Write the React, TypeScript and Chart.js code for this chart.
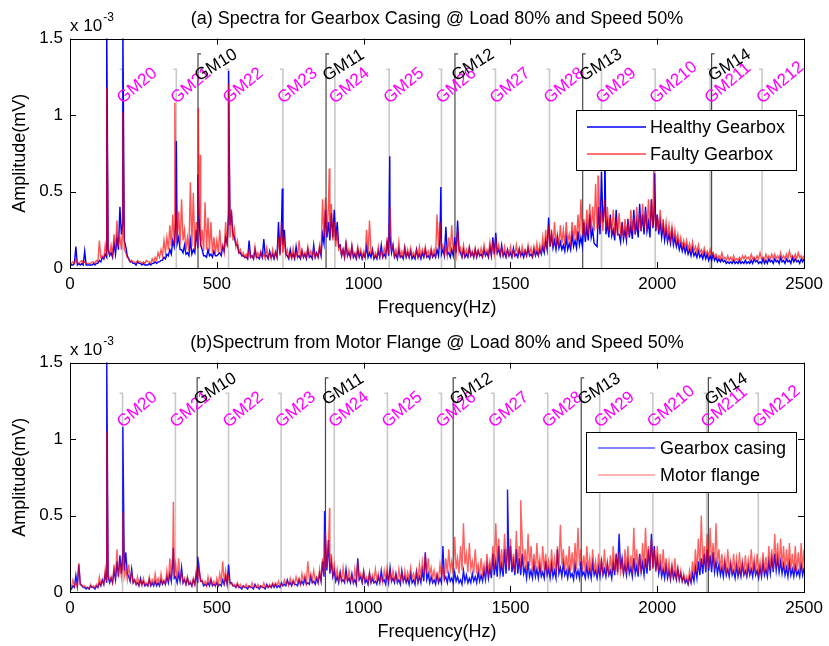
import React, { useEffect, useRef } from "react";
import { Chart, registerables } from "chart.js";

Chart.register(...registerables);

// ---------------- DATA ----------------
// Base spectra sampled every 5 Hz (index i -> i*5 Hz), values in hundredths of 1e-3 mV.
const FREQ_STEP_HZ = 5;
const AMP_UNIT = 100;

// Panel (a)
const titleA = "(a) Spectra for Gearbox Casing @ Load 80% and Speed 50%";
const legendA = ["Healthy Gearbox", "Faulty Gearbox"];
const healthyA = [
  3, 2, 2, 3, 14, 2, 3, 2, 3, 2, 11, 2, 2, 2, 2, 2, 3, 2, 3, 3,
  5, 4, 7, 6, 9, 7, 12, 8, 10, 7, 16, 9, 20, 12, 40, 22, 30, 18, 14, 8,
  6, 4, 4, 3, 3, 2, 4, 3, 3, 2, 3, 2, 2, 2, 3, 2, 3, 3, 4, 3,
  4, 4, 5, 5, 7, 6, 9, 8, 12, 9, 18, 14, 30, 16, 20, 12, 12, 10, 15, 9,
  10, 8, 18, 9, 12, 10, 25, 13, 30, 15, 12, 8, 8, 7, 12, 8, 9, 7, 11, 8,
  8, 9, 10, 8, 14, 11, 20, 16, 35, 28, 35, 22, 20, 15, 15, 10, 10, 8, 8, 7,
  7, 6, 18, 7, 8, 6, 12, 7, 7, 6, 10, 7, 19, 8, 8, 6, 11, 7, 9, 6,
  10, 7, 30, 9, 25, 15, 25, 9, 8, 6, 12, 7, 9, 6, 14, 7, 8, 6, 11, 7,
  9, 6, 12, 7, 8, 6, 15, 7, 10, 7, 13, 8, 22, 16, 38, 20, 30, 18, 36, 20,
  38, 18, 30, 14, 15, 8, 12, 7, 16, 8, 10, 7, 14, 7, 9, 6, 12, 7, 10, 6,
  9, 7, 14, 7, 10, 7, 12, 6, 8, 6, 11, 7, 15, 7, 9, 7, 18, 8, 20, 10,
  15, 7, 9, 6, 12, 7, 8, 6, 13, 7, 10, 7, 11, 6, 8, 6, 12, 7, 9, 6,
  10, 7, 12, 7, 8, 6, 11, 7, 9, 7, 12, 8, 20, 9, 12, 8, 27, 9, 10, 7,
  12, 8, 20, 10, 31, 12, 10, 7, 12, 7, 9, 7, 13, 8, 10, 7, 12, 7, 11, 8,
  9, 7, 12, 8, 10, 7, 14, 8, 20, 9, 23, 10, 12, 8, 15, 8, 10, 7, 12, 8,
  10, 7, 13, 8, 9, 7, 12, 8, 10, 7, 11, 8, 13, 8, 9, 7, 12, 8, 11, 8,
  12, 9, 14, 10, 18, 12, 33, 14, 22, 13, 18, 12, 20, 13, 17, 12, 15, 11, 20, 12,
  16, 12, 22, 14, 18, 13, 24, 15, 20, 14, 30, 17, 27, 18, 35, 20, 25, 16, 15, 14,
  40, 22, 63, 30, 40, 22, 30, 20, 35, 21, 25, 18, 38, 22, 22, 17, 30, 19, 25, 18,
  32, 20, 28, 19, 38, 22, 30, 20, 42, 24, 35, 22, 40, 24, 30, 20, 45, 26, 40, 24,
  35, 22, 30, 20, 28, 18, 25, 17, 22, 16, 24, 15, 20, 14, 18, 12, 16, 11, 15, 10,
  14, 9, 12, 8, 13, 8, 10, 7, 11, 7, 9, 6, 10, 6, 9, 5, 8, 5, 9, 5,
  7, 4, 6, 4, 6, 4, 5, 3, 4, 3, 4, 3, 5, 3, 4, 3, 5, 3, 4, 3,
  5, 3, 4, 3, 5, 3, 6, 4, 5, 3, 4, 3, 6, 3, 5, 3, 6, 4, 5, 3,
  6, 4, 5, 3, 7, 4, 5, 3, 6, 4, 5, 3, 7, 4, 6, 4, 5, 3, 6, 4,
  6,
];
const faultyA = [
  3, 3, 4, 3, 6, 3, 3, 4, 5, 3, 4, 3, 3, 3, 3, 4, 4, 3, 5, 4,
  18, 7, 8, 6, 15, 8, 12, 9, 15, 9, 22, 12, 31, 16, 20, 12, 30, 12, 10, 7,
  6, 4, 5, 4, 4, 3, 5, 4, 4, 3, 4, 3, 5, 4, 4, 3, 6, 4, 7, 5,
  10, 7, 12, 8, 18, 10, 20, 12, 28, 14, 35, 16, 40, 18, 37, 15, 45, 18, 25, 12,
  20, 11, 56, 14, 49, 12, 30, 13, 35, 14, 25, 11, 43, 12, 33, 11, 30, 10, 20, 9,
  18, 10, 25, 11, 15, 10, 30, 14, 40, 20, 38, 18, 25, 14, 18, 10, 12, 8, 10, 7,
  9, 6, 12, 7, 8, 6, 14, 7, 10, 7, 11, 7, 9, 6, 13, 7, 10, 6, 12, 7,
  11, 7, 20, 8, 30, 10, 18, 8, 12, 7, 9, 6, 13, 7, 10, 7, 18, 8, 12, 7,
  10, 7, 14, 8, 11, 7, 12, 7, 9, 7, 15, 9, 45, 20, 46, 22, 40, 20, 42, 18,
  30, 14, 25, 12, 14, 8, 12, 7, 18, 8, 12, 7, 15, 8, 10, 7, 14, 8, 12, 7,
  11, 7, 25, 9, 31, 10, 12, 7, 10, 7, 14, 8, 11, 7, 13, 8, 20, 9, 40, 12,
  15, 8, 12, 7, 17, 8, 11, 7, 14, 8, 12, 7, 13, 8, 10, 7, 12, 7, 14, 8,
  12, 8, 14, 8, 11, 7, 13, 8, 12, 8, 35, 14, 30, 12, 15, 9, 14, 8, 20, 10,
  28, 11, 14, 8, 25, 10, 13, 8, 15, 8, 12, 8, 14, 8, 11, 7, 13, 8, 12, 8,
  13, 8, 15, 9, 12, 8, 17, 9, 16, 9, 18, 10, 15, 9, 13, 8, 14, 8, 12, 8,
  14, 8, 12, 8, 15, 9, 13, 8, 14, 9, 12, 8, 15, 9, 13, 8, 14, 9, 16, 9,
  15, 10, 20, 11, 25, 13, 28, 14, 25, 14, 30, 16, 22, 14, 28, 16, 25, 15, 30, 17,
  22, 16, 30, 18, 28, 18, 35, 20, 45, 22, 32, 20, 38, 22, 42, 24, 40, 24, 55, 26,
  60, 28, 38, 24, 45, 26, 40, 24, 33, 22, 38, 24, 30, 21, 36, 23, 28, 20, 32, 22,
  30, 21, 38, 24, 33, 22, 40, 25, 36, 24, 42, 26, 38, 24, 45, 26, 45, 27, 40, 25,
  35, 24, 38, 23, 32, 21, 30, 20, 28, 19, 27, 18, 25, 17, 22, 15, 20, 14, 18, 13,
  18, 12, 16, 11, 17, 11, 14, 10, 15, 10, 12, 9, 13, 9, 11, 8, 12, 8, 10, 7,
  9, 6, 8, 6, 10, 6, 7, 5, 8, 5, 7, 5, 8, 5, 6, 5, 7, 5, 8, 6,
  8, 6, 7, 5, 9, 6, 7, 5, 8, 6, 10, 6, 7, 5, 9, 6, 8, 6, 9, 6,
  9, 6, 8, 6, 10, 6, 8, 6, 9, 6, 11, 7, 8, 6, 9, 6, 10, 7, 8, 6,
  8,
];
// narrow peaks: [frequency Hz, amplitude x1e-3 mV]
const healthyPeaksA: [number, number][] = [
  [125, 1.6], [180, 1.6], [362, 0.83], [435, 0.61], [540, 1.29],
  [723, 0.52], [1089, 0.73], [1263, 0.53], [1821, 0.85], [1991, 0.62],
];
const faultyPeaksA: [number, number][] = [
  [125, 1.18], [180, 1.02], [357, 1.08], [437, 1.05], [444, 0.74],
  [540, 1.21], [883, 0.65], [1798, 0.6], [1988, 0.65],
];
const gm1FreqA = [436, 872, 1311, 1746, 2185];
const gm2FreqA = [179, 362, 540, 725, 902, 1087, 1265, 1449, 1633, 1810, 1993, 2180, 2357];

// Panel (b)
const titleB = "(b)Spectrum from Motor Flange @ Load 80% and Speed 50%";
const legendB = ["Gearbox casing", "Motor flange"];
const casingB = [
  3, 2, 4, 3, 11, 4, 18, 5, 4, 3, 3, 2, 3, 2, 4, 3, 3, 2, 4, 3,
  6, 4, 8, 5, 12, 6, 10, 6, 9, 6, 14, 8, 20, 10, 24, 12, 26, 14, 26, 12,
  10, 7, 15, 6, 8, 5, 6, 4, 9, 5, 7, 4, 5, 4, 8, 4, 6, 4, 7, 4,
  6, 4, 8, 5, 7, 5, 10, 6, 12, 7, 20, 9, 10, 6, 12, 7, 16, 6, 8, 5,
  9, 5, 6, 4, 8, 5, 12, 6, 14, 7, 7, 4, 5, 4, 6, 4, 8, 4, 5, 4,
  6, 4, 5, 4, 8, 5, 10, 5, 18, 6, 6, 4, 4, 3, 5, 3, 3, 2, 4, 3,
  3, 2, 4, 3, 3, 2, 5, 3, 3, 2, 4, 3, 3, 2, 5, 3, 4, 3, 5, 3,
  5, 3, 4, 3, 6, 4, 5, 4, 8, 5, 6, 4, 7, 5, 5, 4, 8, 5, 7, 5,
  9, 5, 6, 5, 10, 6, 7, 5, 9, 6, 12, 7, 20, 10, 34, 14, 34, 12, 20, 10,
  14, 7, 10, 6, 13, 7, 8, 6, 15, 7, 9, 6, 12, 6, 8, 5, 22, 8, 10, 6,
  13, 6, 8, 5, 12, 6, 9, 6, 7, 5, 10, 6, 14, 7, 8, 5, 12, 6, 16, 7,
  9, 6, 12, 6, 8, 5, 14, 7, 10, 6, 9, 5, 12, 6, 8, 5, 13, 6, 10, 6,
  14, 7, 26, 8, 12, 6, 10, 6, 8, 5, 11, 6, 9, 6, 30, 8, 10, 6, 12, 7,
  9, 6, 13, 7, 10, 6, 8, 5, 14, 7, 11, 6, 9, 6, 12, 7, 10, 6, 13, 7,
  11, 7, 14, 8, 18, 9, 16, 9, 25, 11, 20, 10, 30, 12, 18, 10, 28, 12, 30, 14,
  30, 13, 20, 11, 28, 12, 22, 11, 25, 12, 16, 9, 20, 10, 14, 9, 18, 10, 15, 9,
  17, 10, 13, 9, 20, 11, 15, 9, 18, 10, 14, 9, 28, 12, 16, 10, 19, 11, 14, 9,
  16, 10, 12, 8, 18, 10, 14, 9, 20, 11, 13, 9, 17, 10, 15, 9, 19, 11, 14, 9,
  16, 10, 20, 11, 15, 10, 18, 11, 14, 9, 19, 11, 25, 13, 38, 15, 22, 12, 18, 11,
  20, 12, 16, 10, 22, 12, 17, 10, 25, 13, 19, 11, 22, 12, 28, 14, 38, 16, 30, 14,
  22, 12, 18, 10, 15, 9, 17, 9, 14, 8, 16, 9, 13, 8, 15, 8, 12, 7, 10, 6,
  8, 5, 10, 6, 12, 7, 16, 9, 20, 11, 22, 12, 25, 13, 28, 14, 24, 13, 26, 13,
  20, 12, 18, 11, 16, 10, 19, 11, 15, 10, 18, 11, 14, 9, 17, 10, 15, 10, 18, 11,
  14, 10, 17, 11, 15, 10, 18, 11, 14, 9, 16, 10, 19, 11, 15, 10, 20, 12, 22, 13,
  25, 14, 22, 13, 20, 12, 18, 11, 16, 10, 19, 11, 15, 10, 17, 11, 14, 10, 18, 11,
  16,
];
const flangeB = [
  4, 3, 8, 4, 6, 3, 19, 5, 5, 3, 4, 3, 3, 2, 5, 3, 4, 3, 5, 3,
  10, 5, 7, 5, 15, 7, 12, 7, 10, 6, 18, 9, 28, 12, 18, 10, 20, 10, 15, 8,
  18, 8, 12, 6, 8, 5, 10, 5, 7, 4, 9, 5, 6, 4, 10, 5, 8, 5, 12, 6,
  9, 5, 12, 6, 8, 5, 14, 7, 22, 9, 25, 10, 18, 8, 22, 9, 12, 6, 9, 5,
  10, 5, 7, 4, 9, 5, 14, 7, 16, 7, 8, 5, 7, 4, 10, 5, 9, 5, 7, 4,
  9, 5, 12, 6, 20, 7, 14, 6, 10, 5, 6, 4, 5, 3, 6, 3, 5, 3, 4, 3,
  5, 3, 4, 3, 6, 3, 4, 3, 5, 3, 4, 3, 6, 3, 4, 3, 5, 3, 6, 4,
  6, 4, 7, 4, 5, 4, 8, 5, 7, 4, 9, 5, 8, 5, 10, 6, 9, 5, 12, 7,
  11, 6, 20, 8, 12, 7, 14, 8, 10, 6, 15, 8, 22, 12, 40, 16, 30, 14, 25, 12,
  18, 9, 15, 8, 12, 7, 16, 8, 11, 7, 14, 8, 10, 6, 15, 8, 20, 9, 12, 7,
  14, 8, 10, 6, 13, 7, 11, 7, 15, 8, 12, 7, 10, 6, 14, 8, 16, 8, 12, 7,
  14, 8, 11, 7, 15, 8, 12, 7, 14, 8, 13, 8, 16, 9, 12, 7, 14, 8, 18, 10,
  20, 11, 25, 12, 22, 11, 16, 9, 14, 8, 12, 8, 18, 10, 15, 9, 22, 12, 28, 14,
  20, 12, 36, 15, 22, 12, 30, 14, 45, 18, 25, 13, 32, 15, 20, 12, 28, 14, 18, 11,
  22, 12, 18, 11, 25, 13, 20, 12, 30, 15, 45, 18, 35, 16, 28, 14, 38, 17, 30, 15,
  35, 16, 25, 13, 40, 17, 30, 15, 35, 16, 28, 14, 38, 17, 30, 14, 25, 13, 32, 15,
  22, 12, 30, 14, 25, 13, 20, 12, 28, 14, 22, 12, 30, 14, 44, 18, 28, 14, 24, 13,
  30, 14, 26, 13, 32, 15, 42, 17, 28, 14, 24, 12, 30, 14, 22, 12, 28, 13, 20, 11,
  25, 12, 22, 11, 28, 13, 20, 11, 24, 12, 30, 14, 22, 11, 26, 13, 20, 11, 28, 13,
  30, 14, 24, 12, 42, 16, 28, 13, 25, 12, 32, 15, 42, 16, 30, 14, 35, 15, 28, 13,
  30, 14, 25, 12, 28, 13, 22, 11, 20, 10, 18, 9, 22, 10, 16, 8, 14, 7, 12, 7,
  10, 6, 14, 8, 20, 10, 28, 13, 35, 15, 50, 18, 30, 14, 38, 16, 42, 18, 32, 15,
  45, 18, 28, 14, 25, 13, 22, 12, 28, 14, 20, 12, 25, 13, 22, 12, 26, 13, 20, 12,
  24, 13, 21, 12, 28, 14, 22, 12, 25, 13, 20, 11, 26, 13, 23, 12, 30, 15, 28, 14,
  38, 17, 32, 15, 35, 16, 30, 14, 28, 14, 32, 15, 25, 13, 30, 14, 26, 13, 32, 15,
  28,
];
const casingPeaksB: [number, number][] = [
  [125, 1.6], [180, 1.08], [352, 0.29], [435, 0.23], [867, 0.53], [1490, 0.67],
];
const flangePeaksB: [number, number][] = [
  [125, 1.05], [180, 0.52], [352, 0.59], [884, 0.55], [1535, 0.6],
];
const gm1FreqB = [433, 870, 1305, 1741, 2174];
const gm2FreqB = [179, 359, 540, 719, 900, 1081, 1265, 1444, 1627, 1804, 1985, 2168, 2344];

const gm1Labels = ["GM10", "GM11", "GM12", "GM13", "GM14"];
const gm2Labels = ["GM20", "GM21", "GM22", "GM23", "GM24", "GM25", "GM26", "GM27", "GM28", "GM29", "GM210", "GM211", "GM212"];

const xLabel = "Frequency(Hz)";
const yLabel = "Amplitude(mV)";

// ---------------- HELPERS ----------------
const FONT = '"Liberation Sans", Arial, Helvetica, sans-serif';

function buildSeries(base: number[], peaks: [number, number][]) {
  const pts = base.map((v, i) => ({ x: i * FREQ_STEP_HZ, y: v / AMP_UNIT }));
  for (const [f, a] of peaks) pts.push({ x: f, y: a });
  pts.sort((a, b) => a.x - b.x);
  return pts;
}

type PanelSpec = {
  title: string;
  legend: string[];
  blue: number[];
  red: number[];
  bluePeaks: [number, number][];
  redPeaks: [number, number][];
  gm1: number[];
  gm2: number[];
  blueColor: string;
  redColor: string;
  legendBlue: string;
  legendRed: string;
  legendBox: { left: number; top: number; right: number; bottom: number; lineX0: number; lineX1: number; textX: number; rowY: number[] };
};

function decorPlugin(spec: PanelSpec) {
  return {
    id: "decor",
    beforeDatasetsDraw(chart: any) {
      const { ctx, chartArea: a } = chart;
      const xs = chart.scales.x, ys = chart.scales.y;
      ctx.save();
      ctx.beginPath();
      ctx.rect(a.left, a.top, a.right - a.left, a.bottom - a.top);
      ctx.clip();
      ctx.strokeStyle = "#c9c9c9";
      ctx.lineWidth = 1.6;
      spec.gm2.forEach((f) => {
        const x = xs.getPixelForValue(f);
        const yt = ys.getPixelForValue(1.3);
        ctx.beginPath();
        ctx.moveTo(x - 3, yt);
        ctx.lineTo(x, yt);
        ctx.lineTo(x, a.bottom);
        ctx.stroke();
      });
      ctx.strokeStyle = "rgba(40,40,40,0.85)";
      ctx.lineWidth = 1.2;
      spec.gm1.forEach((f) => {
        const x = xs.getPixelForValue(f);
        const yt = ys.getPixelForValue(1.4);
        ctx.beginPath();
        ctx.moveTo(x + 3, yt);
        ctx.lineTo(x, yt);
        ctx.lineTo(x, a.bottom);
        ctx.stroke();
      });
      ctx.restore();
    },
    afterDatasetsDraw(chart: any) {
      const { ctx, chartArea: a } = chart;
      const xs = chart.scales.x, ys = chart.scales.y;
      ctx.save();
      ctx.font = `17px ${FONT}`;
      ctx.textAlign = "left";
      ctx.textBaseline = "alphabetic";
      spec.gm2.forEach((f, i) => {
        ctx.save();
        ctx.translate(xs.getPixelForValue(f), ys.getPixelForValue(1.07));
        ctx.rotate((-40 * Math.PI) / 180);
        ctx.fillStyle = "#ff00ff";
        ctx.fillText(gm2Labels[i], 0, 0);
        ctx.restore();
      });
      spec.gm1.forEach((f, i) => {
        ctx.save();
        ctx.translate(xs.getPixelForValue(f) + 1, ys.getPixelForValue(1.22));
        ctx.rotate((-32 * Math.PI) / 180);
        ctx.fillStyle = "#000";
        ctx.fillText(gm1Labels[i], 0, 0);
        ctx.restore();
      });
      // frame + inward ticks
      ctx.strokeStyle = "#000";
      ctx.lineWidth = 1;
      ctx.strokeRect(Math.round(a.left) + 0.5, Math.round(a.top) + 0.5, Math.round(a.right - a.left), Math.round(a.bottom - a.top));
      const tl = 6;
      ctx.beginPath();
      xs.ticks.forEach((t: any) => {
        const x = Math.round(xs.getPixelForValue(t.value)) + 0.5;
        ctx.moveTo(x, a.bottom);
        ctx.lineTo(x, a.bottom - tl);
        ctx.moveTo(x, a.top);
        ctx.lineTo(x, a.top + tl);
      });
      ys.ticks.forEach((t: any) => {
        const y = Math.round(ys.getPixelForValue(t.value)) + 0.5;
        ctx.moveTo(a.left, y);
        ctx.lineTo(a.left + tl, y);
        ctx.moveTo(a.right, y);
        ctx.lineTo(a.right - tl, y);
      });
      ctx.stroke();
      // legend
      const L = spec.legendBox;
      ctx.fillStyle = "#fff";
      ctx.fillRect(L.left, L.top, L.right - L.left, L.bottom - L.top);
      ctx.strokeStyle = "#000";
      ctx.lineWidth = 1;
      ctx.strokeRect(L.left + 0.5, L.top + 0.5, L.right - L.left, L.bottom - L.top);
      const colors = [spec.legendBlue, spec.legendRed];
      ctx.font = `18px ${FONT}`;
      ctx.textBaseline = "middle";
      spec.legend.forEach((txt, i) => {
        const y = L.rowY[i];
        ctx.strokeStyle = colors[i];
        ctx.lineWidth = 1.5;
        ctx.beginPath();
        ctx.moveTo(L.lineX0, y);
        ctx.lineTo(L.lineX1, y);
        ctx.stroke();
        ctx.fillStyle = "#000";
        ctx.fillText(txt, L.textX, y + 1);
      });
      // exponent label
      ctx.textBaseline = "alphabetic";
      ctx.font = `17px ${FONT}`;
      ctx.fillText("x 10", a.left, a.top - 8);
      const w = ctx.measureText("x 10").width;
      ctx.font = `12px ${FONT}`;
      ctx.fillText("-3", a.left + w + 1, a.top - 18);
      ctx.restore();
    },
  };
}

function buildConfig(spec: PanelSpec, height: number): any {
  const tickFont = { family: FONT, size: 17, weight: "normal" as const };
  const labelFont = { family: FONT, size: 18, weight: "normal" as const };
  return {
    type: "line",
    data: {
      datasets: [
        {
          label: spec.legend[1],
          data: buildSeries(spec.red, spec.redPeaks),
          borderColor: spec.redColor,
          borderWidth: 1.4,
          pointRadius: 0,
          tension: 0,
          order: 0,
        },
        {
          label: spec.legend[0],
          data: buildSeries(spec.blue, spec.bluePeaks),
          borderColor: spec.blueColor,
          borderWidth: 1.4,
          pointRadius: 0,
          tension: 0,
          order: 1,
        },
      ],
    },
    options: {
      animation: false,
      responsive: false,
      maintainAspectRatio: false,
      events: [],
      layout: { padding: { left: 0, right: 23, top: 0, bottom: 0 } },
      plugins: {
        legend: { display: false },
        tooltip: { enabled: false },
        title: {
          display: true,
          text: spec.title,
          color: "#000",
          font: labelFont,
          fullSize: false,
          padding: { top: 8, bottom: 9 },
        },
      },
      scales: {
        x: {
          type: "linear",
          min: 0,
          max: 2500,
          ticks: { stepSize: 500, color: "#000", font: tickFont, padding: 6, maxRotation: 0, callback: (v: number) => String(v) },
          grid: { display: false, drawTicks: false },
          border: { display: false },
          title: { display: true, text: xLabel, color: "#000", font: labelFont, padding: { top: 0, bottom: height - 319 } },
          afterFit: (s: any) => {
            s.height = height - 268;
          },
        },
        y: {
          type: "linear",
          min: 0,
          max: 1.5,
          ticks: { stepSize: 0.5, color: "#000", font: tickFont, padding: 7, callback: (v: number) => String(v) },
          grid: { display: false, drawTicks: false },
          border: { display: false },
          title: { display: true, text: yLabel, color: "#000", font: labelFont, padding: { top: 9, bottom: 0 } },
          afterFit: (s: any) => {
            s.width = 70;
          },
        },
      },
    },
    plugins: [decorPlugin(spec)],
  };
}

const panelA: PanelSpec = {
  title: titleA,
  legend: legendA,
  blue: healthyA,
  red: faultyA,
  bluePeaks: healthyPeaksA,
  redPeaks: faultyPeaksA,
  gm1: gm1FreqA,
  gm2: gm2FreqA,
  blueColor: "rgba(0,0,255,1)",
  redColor: "rgba(255,0,0,0.68)",
  legendBlue: "#0000ff",
  legendRed: "#ff4040",
  legendBox: { left: 576, top: 110, right: 796, bottom: 170, lineX0: 587, lineX1: 646, textX: 650, rowY: [127, 154] },
};

const panelB: PanelSpec = {
  title: titleB,
  legend: legendB,
  blue: casingB,
  red: flangeB,
  bluePeaks: casingPeaksB,
  redPeaks: flangePeaksB,
  gm1: gm1FreqB,
  gm2: gm2FreqB,
  blueColor: "rgba(0,0,255,0.92)",
  redColor: "rgba(255,0,0,0.62)",
  legendBlue: "#5a5aff",
  legendRed: "#ff9a9a",
  legendBox: { left: 586, top: 108, right: 796, bottom: 168, lineX0: 598, lineX1: 655, textX: 660, rowY: [124, 151] },
};

function Panel({ spec, top, height }: { spec: PanelSpec; top: number; height: number }) {
  const ref = useRef<HTMLCanvasElement>(null);
  useEffect(() => {
    const chart = new Chart(ref.current as HTMLCanvasElement, buildConfig(spec, height));
    return () => chart.destroy();
  }, [spec, height]);
  return (
    <canvas
      ref={ref}
      width={829}
      height={height}
      style={{ position: "absolute", left: 0, top, width: 829, height }}
    />
  );
}

export default function App() {
  return (
    <div style={{ position: "fixed", left: 0, top: 0, width: 829, height: 646, background: "#fff", overflow: "hidden" }}>
      <Panel spec={panelA} top={0} height={323} />
      <Panel spec={panelB} top={324} height={322} />
    </div>
  );
}
